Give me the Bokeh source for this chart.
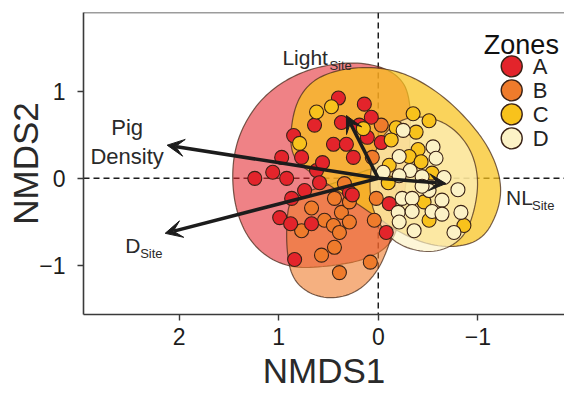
import numpy as np
from bokeh.plotting import figure
from bokeh.models import Range1d, FixedTicker, Span, Arrow, VeeHead, ColumnDataSource
from bokeh.core.properties import value
from bokeh.embed import file_html
from bokeh.resources import INLINE

FONT = "Liberation Sans"
INK = "#1c1c1c"

# ---- site scores on the two NMDS axes, by zone ----
a_x = [1.24, 1.06, 0.97, 0.92, 0.87, 0.77, 0.74, 0.99, 0.88, 0.84, 0.67, 0.62, 0.59, 0.56, 0.85,
       0.64, 0.45, 0.32, 0.40, 0.14, 0.07, 0.37, 0.29, 0.25, 0.11, -0.03, 0.26, -0.11, -0.08, 0.19]
a_y = [0.00, 0.07, 0.24, 0.00, -0.23, 0.24, -0.14, -0.45, -0.52, -0.93, -0.52, 0.09, -0.05, 0.18, 0.49,
       0.61, 0.39, 0.39, 0.92, 0.85, 0.70, 0.64, -0.16, 0.24, 0.47, 0.41, -0.19, -0.29, -0.62, 0.61]

b_x = [0.67, 0.44, 0.37, 0.29, 0.54, 0.45, 0.77, 0.39, 0.29, 0.44, 0.57, 0.39, 0.08, 0.04, -0.03, 0.34,
       0.06, 0.02]
b_y = [-0.34, -0.23, -0.39, -0.27, -0.48, -0.54, -0.60, -0.62, -0.50, -0.79, -0.88, -1.08, -0.96, -0.48,
       0.61, -0.06, 0.24, -0.23]

c_x = [0.79, 0.47, 0.62, -0.35, -0.51, -0.18, -0.38, 0.15, -0.13, -0.40, -0.31, -0.43, -0.11, -0.54,
       -0.46, -0.51, -0.86, -0.10]
c_y = [0.40, 0.82, 0.76, 0.74, 0.66, 0.58, 0.53, 0.57, 0.44, 0.33, 0.25, 0.19, 0.15, 0.06, -0.27,
       -0.48, -0.54, -0.05]

d_x = [-0.25, -0.55, -0.58, -0.21, -0.05, -0.32, -0.44, -0.66, -0.80, -0.24, -0.34, -0.51, -0.64, -0.20,
       -0.34, -0.54, -0.64, -0.83, -0.36, -0.76, -0.44, -0.21, -0.21]
d_y = [0.55, 0.36, 0.23, 0.25, 0.07, 0.09, 0.02, 0.01, -0.13, -0.23, -0.23, -0.14, -0.25, -0.39, -0.38,
       -0.38, -0.41, -0.39, -0.60, -0.62, -0.09, 0.03, -0.50]

# ---- outline vertices of each zone's hull ----
hull_a_x = [1.47, 1.44, 1.34, 1.17, 0.94, 0.67, 0.34, 0.04, -0.19, -0.31, -0.33, -0.29, -0.23, -0.13, 0.14,
            0.49, 0.84, 1.11, 1.31, 1.43]
hull_a_y = [0.00, 0.344, 0.641, 0.916, 1.123, 1.26, 1.329, 1.306, 1.191, 0.985, 0.55, 0.034, -0.424, -0.768,
            -0.939, -1.008, -1.031, -0.916, -0.687, -0.367]

hull_b_x = [0.89, 0.69, 0.44, 0.19, -0.06, -0.19, -0.19, -0.11, 0.01, 0.21, 0.47, 0.71, 0.87, 0.92, 0.92]
hull_b_y = [-0.252, -0.137, -0.057, 0.069, 0.149, -0.08, -0.424, -0.767, -1.077, -1.306, -1.386, -1.317,
            -1.134, -0.825, -0.481]

hull_c_x = [0.89, 0.84, 0.69, 0.44, 0.09, -0.26, -0.61, -0.91, -1.13, -1.24, -1.21, -1.06, -0.81, -0.51,
            -0.21, 0.04, 0.34, 0.64, 0.84]
hull_c_y = [0.435, 0.836, 1.10, 1.237, 1.283, 1.214, 0.985, 0.664, 0.321, -0.046, -0.367, -0.687, -0.79,
            -0.767, -0.619, -0.424, -0.195, 0.034, 0.206]

hull_d_x = [0.07, -0.01, -0.19, -0.46, -0.73, -0.93, -1.01, -0.97, -0.86, -0.61, -0.33, -0.11, 0.04, 0.09]
hull_d_y = [0.149, 0.435, 0.664, 0.722, 0.607, 0.344, 0.0, -0.367, -0.687, -0.848, -0.825, -0.687, -0.424,
            -0.137]

# ---- fitted environmental vectors ----
vec_names = ["Pig Density", "Light", "D", "NL"]
vec_x = [2.12, 0.32, 2.14, -0.68]
vec_y = [0.38, 0.72, -0.63, -0.06]

zone_names = ["A", "B", "C", "D"]
zone_colors = ["#E3242B", "#EF7B2B", "#F8C21C", "#FCF2C6"]
hull_alpha = [0.57, 0.6, 0.72, 0.68]


def smooth_closed(xs, ys, rounds=3):
    """Chaikin corner cutting on a closed outline."""
    pts = np.column_stack([xs, ys]).astype(float)
    for _ in range(rounds):
        nxt = np.roll(pts, -1, axis=0)
        q = 0.75 * pts + 0.25 * nxt
        r = 0.25 * pts + 0.75 * nxt
        out = np.empty((2 * len(pts), 2))
        out[0::2] = q
        out[1::2] = r
        pts = out
    return pts[:, 0], pts[:, 1]


p = figure(frame_width=481, frame_height=302,
           min_border_left=83, min_border_right=0, min_border_top=12, min_border_bottom=88,
           x_range=Range1d(2.96, -1.87), y_range=Range1d(-1.56, 1.90),
           output_backend="svg", toolbar_location=None)
p.grid.visible = False
p.outline_line_color = None
p.background_fill_color = "white"
p.border_fill_color = "white"

# axes
for ax in (p.xaxis[0], p.yaxis[0]):
    ax.axis_line_color = "#3a3a3a"
    ax.axis_line_width = 1.6
    ax.major_tick_line_color = "#3a3a3a"
    ax.major_tick_line_width = 1.4
    ax.major_tick_out = 6
    ax.major_tick_in = 0
    ax.minor_tick_line_color = None
    ax.major_label_text_font = FONT
    ax.major_label_text_font_size = "23px"
    ax.major_label_text_color = INK
    ax.axis_label_text_font = FONT
    ax.axis_label_text_font_size = "35px"
    ax.axis_label_text_font_style = "normal"
    ax.axis_label_text_color = "#2a2a2a"

p.xaxis.ticker = FixedTicker(ticks=[2, 1, 0, -1])
p.yaxis.ticker = FixedTicker(ticks=[-1, 0, 1])
p.xaxis.axis_label = "NMDS1"
p.yaxis.axis_label = "NMDS2"
p.xaxis.major_label_standoff = 7
p.yaxis.major_label_standoff = 12
p.xaxis.axis_label_standoff = 3
p.yaxis.axis_label_standoff = -9

# top border of the panel
p.add_layout(Span(location=1.90, dimension="width", line_color="#3a3a3a", line_width=1.6))

# dashed zero lines under everything
for dim in ("width", "height"):
    p.add_layout(Span(location=0, dimension=dim, line_color=INK, line_width=1.5,
                      line_dash="6 4", level="underlay"))

# zone hulls
hulls = [(hull_a_x, hull_a_y), (hull_b_x, hull_b_y), (hull_c_x, hull_c_y), (hull_d_x, hull_d_y)]
for (hx, hy), col, al in zip(hulls, zone_colors, hull_alpha):
    sx, sy = smooth_closed(hx, hy)
    p.patch(sx, sy, fill_color=col, fill_alpha=al, line_color="#4a2c1c", line_alpha=0.75, line_width=1.2)

# site points
pts = {"A": (a_x, a_y), "B": (b_x, b_y), "C": (c_x, c_y), "D": (d_x, d_y)}
for z in ["B", "A", "C", "D"]:
    i = zone_names.index(z)
    xs, ys = pts[z]
    p.scatter(xs, ys, size=14, fill_color=zone_colors[i], line_color="#3a2216", line_width=1.1)

# vectors
vec_src = ColumnDataSource(dict(x0=[0] * len(vec_x), y0=[0] * len(vec_y), x1=vec_x, y1=vec_y))
p.add_layout(Arrow(source=vec_src, x_start="x0", y_start="y0", x_end="x1", y_end="y1",
                   line_color=INK, line_width=3.5,
                   end=VeeHead(size=17, fill_color=INK, line_color=INK, line_width=1)))

# vector labels (main text + subscript)
lab_main = dict(text_font=value(FONT), text_font_size="21px", text_color="#2a2a2a", text_baseline="alphabetic")
lab_sub = dict(text_font=value(FONT), text_font_size="13px", text_color="#2a2a2a", text_baseline="alphabetic")
iv = {n: k for k, n in enumerate(vec_names)}

k = iv["Pig Density"]
p.text([vec_x[k]], [vec_y[k]], text=["Pig\nDensity"], x_offset=-40, y_offset=-3,
       text_align="center", text_baseline="middle", text_line_height=1.15,
       text_font=value(FONT), text_font_size="22px", text_color="#2a2a2a")
k = iv["Light"]
p.text([vec_x[k]], [vec_y[k]], text=["Light"], x_offset=-64, y_offset=-58, **lab_main)
p.text([vec_x[k]], [vec_y[k]], text=["Site"], x_offset=-17, y_offset=-50, **lab_sub)
k = iv["D"]
p.text([vec_x[k]], [vec_y[k]], text=["D"], x_offset=-40, y_offset=12, **lab_main)
p.text([vec_x[k]], [vec_y[k]], text=["Site"], x_offset=-25, y_offset=20, **lab_sub)
k = iv["NL"]
p.text([vec_x[k]], [vec_y[k]], text=["NL"], x_offset=60, y_offset=14, **lab_main)
p.text([vec_x[k]], [vec_y[k]], text=["Site"], x_offset=86, y_offset=22, **lab_sub)

# legend drawn as a key in the upper right of the panel
leg_x, leg_label_x = -1.34, -1.55
leg_y = [1.283, 1.008, 0.733, 0.458]
p.text([-1.06], [1.523], text=["Zones"], text_font=value(FONT), text_font_size="27px",
       text_color="#111111", text_baseline="alphabetic")
p.scatter([leg_x] * 4, leg_y, size=21, fill_color=zone_colors, line_color="#3a2216", line_width=1.4)
p.text([leg_label_x] * 4, leg_y, text=zone_names, text_font=value(FONT), text_font_size="22px",
       text_color="#222222", text_baseline="middle")

open("out.html", "w").write(file_html(p, INLINE))
